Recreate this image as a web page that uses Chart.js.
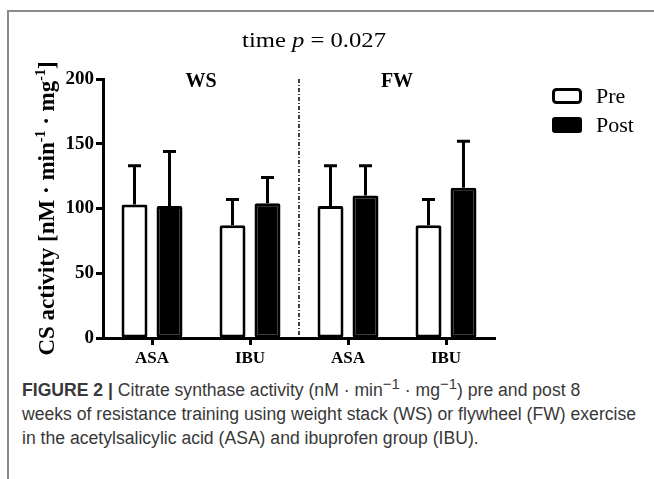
<!DOCTYPE html>
<html>
<head>
<meta charset="utf-8">
<script src="https://cdn.jsdelivr.net/npm/chart.js@4.4.1/dist/chart.umd.min.js"></script>
<style>
  html, body { margin: 0; padding: 0; background: #fff; }
  #fig { position: relative; width: 654px; height: 479px; overflow: hidden; }
  #frameTop { position: absolute; left: 7px; top: 10px; width: 647px; height: 2px; background: #8a8a8a; }
  #frameLeft { position: absolute; left: 7px; top: 10px; width: 2px; height: 469px; background: #8a8a8a; }
  #plot { position: absolute; left: 0; top: 0; width: 654px; height: 372px; }
  #caption {
    position: absolute; left: 22px; top: 378px; width: 630px;
    font-family: "Liberation Sans", Arial, sans-serif; font-size: 17.6px; line-height: 24px; color: #383838;
    white-space: nowrap;
  }
  #caption sup { font-size: 0.85em; line-height: 0; vertical-align: 0.45em; }
</style>
</head>
<body>
<div id="fig">
  <div id="frameTop"></div>
  <div id="frameLeft"></div>
  <div id="plot"><canvas id="csChart"></canvas></div>
  <div id="caption"><b>FIGURE 2 |</b> Citrate synthase activity (nM · min<sup>−1</sup> · mg<sup>−1</sup>) pre and post 8<br>weeks of resistance training using weight stack (WS) or flywheel (FW) exercise<br>in the acetylsalicylic acid (ASA) and ibuprofen group (IBU).</div>
</div>
<script>
// values
const categories = ['ASA', 'IBU', 'ASA', 'IBU'];
const groups = ['WS', 'FW'];
const preMean = [103, 87, 102, 87];
const preSD = [30, 20, 31, 20];
const postMean = [102, 104, 110, 116];
const postSD = [42, 20, 23, 36];
const yTicks = [0, 50, 100, 150, 200];

const serif = '"Liberation Serif", "Times New Roman", serif';

// upward-only SD whiskers with a cap
const errorBars = {
    id: 'errorBars',
    afterDatasetsDraw(chart) {
        const { ctx } = chart;
        const yScale = chart.scales.y;
        ctx.save();
        ctx.strokeStyle = '#000';
        ctx.lineWidth = 3;
        chart.data.datasets.forEach((ds, di) => {
            const meta = chart.getDatasetMeta(di);
            meta.data.forEach((bar, i) => {
                const top = yScale.getPixelForValue(ds.data[i] + ds.sd[i]);
                ctx.beginPath();
                ctx.moveTo(bar.x, bar.y);
                ctx.lineTo(bar.x, top);
                ctx.moveTo(bar.x - 6.5, top);
                ctx.lineTo(bar.x + 6.5, top);
                ctx.stroke();
            });
        });
        ctx.restore();
    }
};

// title, y title with superscripts, group labels, divider, legend
const decor = {
    id: 'decor',
    afterDraw(chart) {
        const { ctx, chartArea: a } = chart;
        const x = chart.scales.x;
        ctx.save();

        // dash-dot divider between WS and FW
        const xm = (x.getPixelForValue(1) + x.getPixelForValue(2)) / 2;
        ctx.strokeStyle = '#000';
        ctx.lineWidth = 1.5;
        ctx.setLineDash([4, 2, 1, 2]);
        ctx.beginPath();
        ctx.moveTo(xm, a.top);
        ctx.lineTo(xm, a.bottom - 2);
        ctx.stroke();
        ctx.setLineDash([]);

        // group labels
        ctx.fillStyle = '#000';
        ctx.font = 'bold 20px ' + serif;
        ctx.textAlign = 'center';
        ctx.textBaseline = 'alphabetic';
        groups.forEach((g, gi) => {
            const cx = (x.getPixelForValue(gi * 2) + x.getPixelForValue(gi * 2 + 1)) / 2;
            ctx.fillText(g, cx, 87);
        });

        // title "time p = 0.027", slightly stretched like the original
        const parts = [['time ', ''], ['p', 'italic '], [' = 0.027', '']];
        ctx.save();
        ctx.translate(314, 47);
        ctx.scale(1.12, 1);
        let tw = 0;
        parts.forEach(p => { ctx.font = p[1] + '22px ' + serif; tw += ctx.measureText(p[0]).width; });
        let tx = -tw / 2;
        ctx.textAlign = 'left';
        parts.forEach(p => {
            ctx.font = p[1] + '22px ' + serif;
            ctx.fillText(p[0], tx, 0);
            tx += ctx.measureText(p[0]).width;
        });
        ctx.restore();

        // rotated y-axis title
        const yParts = [['CS activity [nM · min', 0], ['-1', 1], [' · mg', 0], ['-1', 1], [']', 0]];
        const big = 'bold 23px ' + serif, small = 'bold 14px ' + serif;
        ctx.save();
        ctx.translate(54, (a.top + a.bottom) / 2);
        ctx.rotate(-Math.PI / 2);
        let yw = 0;
        yParts.forEach(p => { ctx.font = p[1] ? small : big; yw += ctx.measureText(p[0]).width; });
        let yx = -yw / 2;
        ctx.textAlign = 'left';
        yParts.forEach(p => {
            ctx.font = p[1] ? small : big;
            ctx.fillText(p[0], yx, p[1] ? -9 : 0);
            yx += ctx.measureText(p[0]).width;
        });
        ctx.restore();

        // legend
        ctx.lineWidth = 3;
        ctx.strokeStyle = '#000';
        ctx.fillStyle = '#fff';
        ctx.beginPath();
        ctx.roundRect(553.5, 89.5, 27, 13, 3);
        ctx.fill();
        ctx.stroke();
        ctx.fillStyle = '#000';
        ctx.beginPath();
        ctx.roundRect(552, 117, 30, 16, 3);
        ctx.fill();
        ctx.font = '22px ' + serif;
        ctx.textAlign = 'left';
        ctx.textBaseline = 'middle';
        ctx.fillText('Pre', 596, 97);
        ctx.fillText('Post', 596, 126);

        ctx.restore();
    }
};

new Chart(document.getElementById('csChart'), {
    type: 'bar',
    data: {
        labels: categories,
        datasets: [
            {
                label: 'Pre',
                data: preMean,
                sd: preSD,
                backgroundColor: '#fff',
                borderColor: '#000',
                borderWidth: 3,
                borderRadius: 2,
                borderSkipped: false,
                barPercentage: 0.743,
                categoryPercentage: 0.714
            },
            {
                label: 'Post',
                data: postMean,
                sd: postSD,
                backgroundColor: '#000',
                borderColor: '#000',
                borderWidth: 3,
                borderRadius: 2,
                borderSkipped: false,
                barPercentage: 0.743,
                categoryPercentage: 0.714
            }
        ]
    },
    options: {
        responsive: true,
        maintainAspectRatio: false,
        animation: false,
        layout: { padding: { left: 0, top: 79, right: 159, bottom: 0 } },
        plugins: {
            legend: { display: false },
            tooltip: { enabled: false },
            title: { display: false }
        },
        scales: {
            x: {
                grid: { display: true, drawOnChartArea: false, offset: false, tickLength: 7, tickWidth: 3, tickColor: '#000' },
                border: { display: true, color: '#000', width: 3 },
                ticks: { color: '#000', font: { family: serif, size: 17, weight: 'bold' }, padding: 3, maxRotation: 0 },
                afterFit: s => { s.height = 34; }
            },
            y: {
                min: 0,
                max: 200,
                afterBuildTicks: s => { s.ticks = yTicks.map(v => ({ value: v })); },
                grid: { drawOnChartArea: false, tickLength: 7, tickWidth: 3, tickColor: '#000' },
                border: { display: true, color: '#000', width: 3 },
                ticks: { color: '#000', font: { family: serif, size: 19, weight: 'bold' }, padding: 2 },
                afterFit: s => { s.width = 103; }
            }
        }
    },
    plugins: [errorBars, decor]
});
</script>
</body>
</html>
